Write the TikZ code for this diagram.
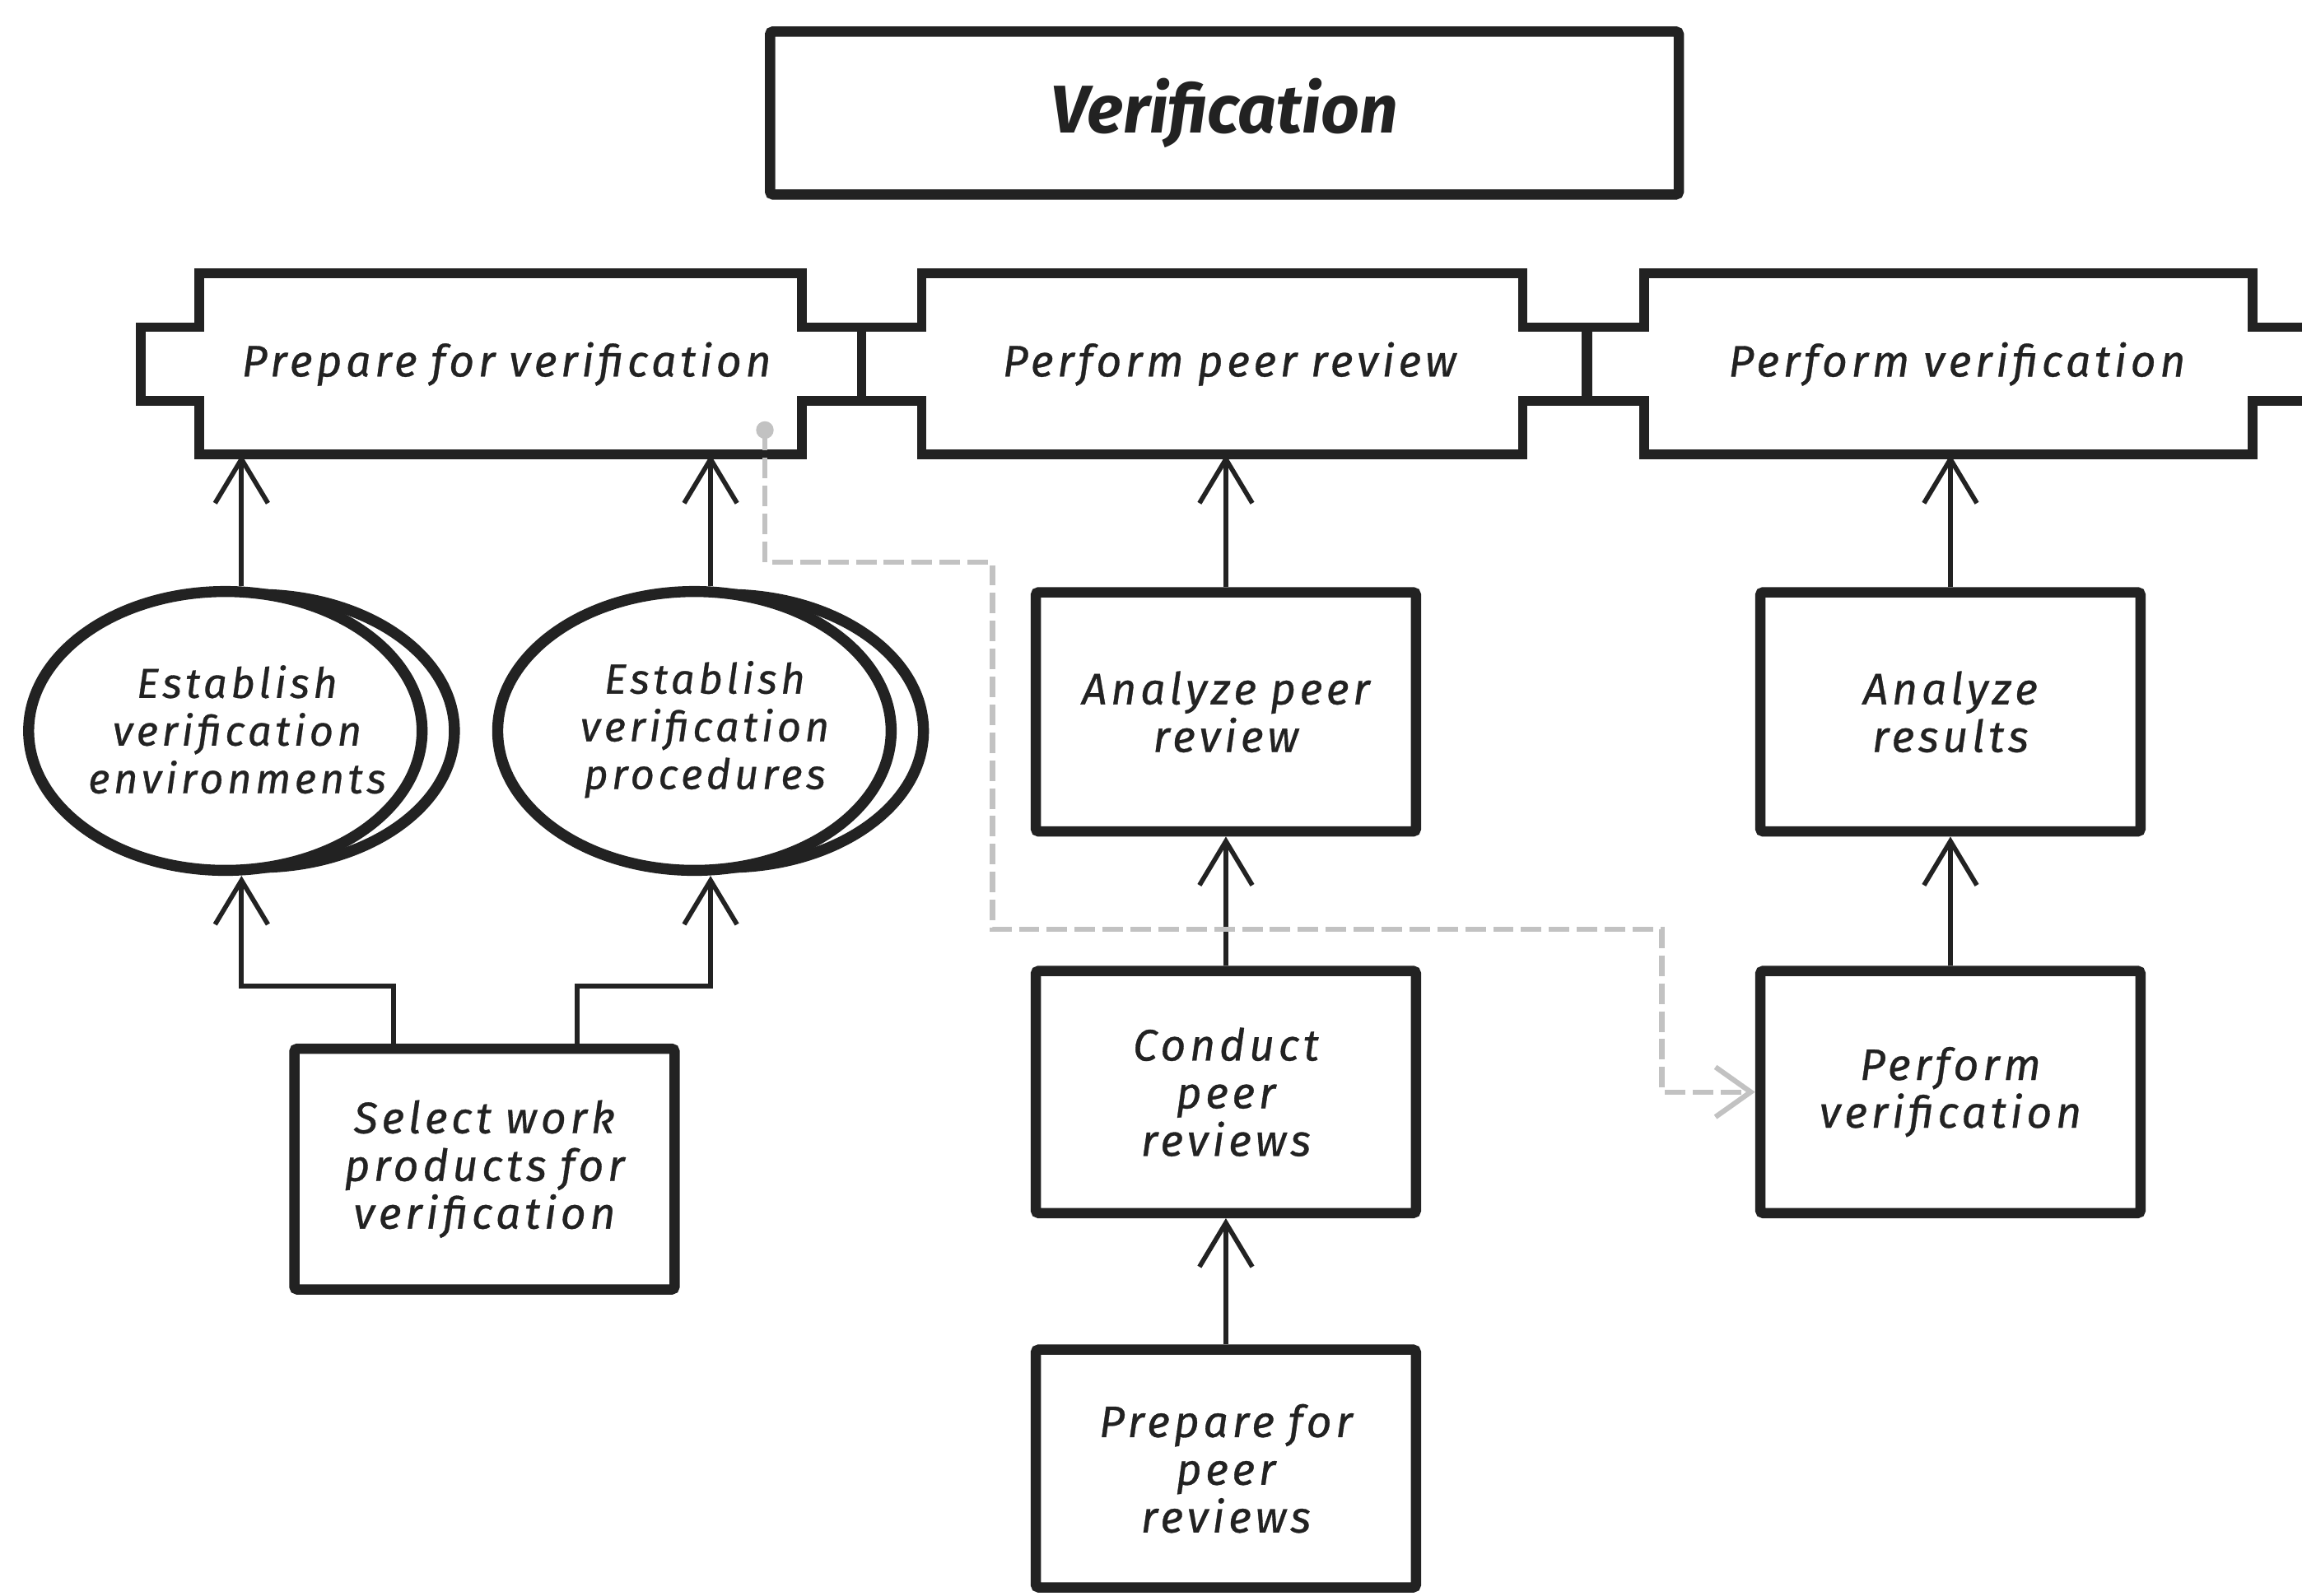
\documentclass[tikz,border=0pt]{standalone}
\usepackage{fontspec}
\setmainfont{Fira Sans}
\newfontfamily\handfont[LetterSpace=9,WordSpace=0.9,FakeBold=0.6]{Fira Sans}
\usetikzlibrary{arrows.meta,shapes.geometric,calc}

\definecolor{ink}{HTML}{222222}
\definecolor{trace}{HTML}{C2C2C2}

\begin{document}
\begin{tikzpicture}[x=1pt,y=-1pt,
  hand/.style={font=\handfont\fontsize{30}{32.5}\selectfont\itshape, align=center, text=ink},
  handsmall/.style={font=\handfont\fontsize{28.5}{32.5}\selectfont\itshape, align=center, text=ink},
  titlebox/.style={draw=ink, line width=7pt, rounded corners=2pt, fill=white,
    minimum width=619pt, minimum height=111pt,
    font=\fontsize{46}{50}\selectfont\bfseries\itshape, text=ink},
  procbox/.style={draw=ink, line width=7pt, rounded corners=2pt, fill=white,
    minimum width=259pt, minimum height=164pt, hand},
  phase/.style={draw=none, minimum height=123pt, hand},
  notch/.style={draw=ink, line width=6.5pt, fill=white, line join=miter},
  stack/.style={draw=none, ellipse, minimum width=296pt, minimum height=197pt},
  oval/.style={draw=ink, line width=7.5pt, fill=white},
  flow/.style={draw=ink, line width=3.2pt,
    -{Straight Barb[length=30pt,width=36pt,line width=3.2pt]}},
  dashflow/.style={draw=trace, line width=3.5pt, dash pattern=on 14pt off 5pt,
    -{Straight Barb[length=24pt,width=34pt,line width=3.5pt]}},
]
\fill[white] (0,0) rectangle (1568,1087);
\clip (0,0) rectangle (1568,1087);

% title
\node[titlebox] (ver) at (834,77) {Verification};

% the three phases
\node[phase, minimum width=410pt] (pv) at (341,248) {};
\node[phase, minimum width=409pt] (ppr) at (832.5,248) {};
\node[phase, minimum width=414pt] (pf) at (1327,248) {};

\draw[notch] (pv.north west) -- (pv.north east) -- ($(pv.east)+(0,-25)$)
  -- ++(41,0) -- ++(0,50) -- ++(-41,0) -- (pv.south east) -- (pv.south west)
  -- ($(pv.west)+(0,25)$) -- ++(-40,0) -- ++(0,-50) -- ++(40,0) -- cycle;
\draw[notch] (ppr.north west) -- (ppr.north east) -- ($(ppr.east)+(0,-25)$)
  -- ++(44,0) -- ++(0,50) -- ++(-44,0) -- (ppr.south east) -- (ppr.south west)
  -- ($(ppr.west)+(0,25)$) -- ++(-41,0) -- ++(0,-50) -- ++(41,0) -- cycle;
\fill[white] (pf.north west) rectangle (pf.south east);
\fill[white] ($(pf.east)+(0,-25)$) rectangle ($(pf.east)+(60,25)$);
\draw[notch, fill=none] ($(pf.east)+(60,-25)$) -- ($(pf.east)+(0,-25)$)
  -- (pf.north east) -- (pf.north west) -- ($(pf.west)+(0,-25)$)
  -- ++(-39,0) -- ++(0,50) -- ++(39,0) -- (pf.south west) -- (pf.south east)
  -- ($(pf.east)+(0,25)$) -- ++(60,0);

\node[hand] at ($(pv.center)+(4,0)$) {Prepare for verification};
\node[hand] at ($(ppr.center)+(5,0)$) {Perform peer review};
\node[hand] at ($(pf.center)+(6,0)$) {Perform verification};

% stacked ovals
\node[stack] (env) at (164.5,498) {};
\node[stack] (proc) at (484,498) {};
\foreach \o in {env,proc}{
  \draw[oval] ($(\o.center)+(11,0)$) ellipse [x radius=134pt, y radius=93pt];
  \draw[oval] ($(\o.center)+(-11,0)$) ellipse [x radius=134pt, y radius=95pt];
}
\node[handsmall] at ($(env.center)+(-3,-1)$) {Establish\\verification\\environments};
\node[handsmall] at ($(proc.center)+(-4,-1)$) {Establish\\verification\\procedures};

% activity boxes
\node[procbox, minimum height=164pt] (sel) at (330,796.5) {Select work\\products for\\verification};
\node[procbox, minimum height=163pt] (apr) at (835,485) {Analyze peer\\review};
\node[procbox, minimum height=165pt] (cpr) at (835,744) {Conduct\\peer\\reviews};
\node[procbox, minimum height=162pt] (prp) at (835,1000.5) {Prepare for\\peer\\reviews};
\node[procbox, minimum height=163pt] (ares) at (1328.5,485) {Analyze\\results};
\node[procbox, minimum height=165pt] (pver) at (1328.5,744) {Perform\\verification};

% connectors
\draw[flow] (env.north) -- (env.north |- pv.south);
\draw[flow] (proc.north) -- (proc.north |- pv.south);
\draw[flow] ([xshift=-62pt]sel.north) -- ++(0,-39) -| (env.south);
\draw[flow] ([xshift=63pt]sel.north) -- ++(0,-39) -| (proc.south);
\draw[flow] (apr.north) -- (apr.north |- ppr.south);
\draw[flow] (cpr.north) -- (apr.south);
\draw[flow] (prp.north) -- (cpr.south);
\draw[flow] (ares.north) -- (ares.north |- pf.south);
\draw[flow] (pver.north) -- (ares.south);

% trace from the preparation phase to the verification step
\coordinate (tracestart) at ($(pv.center)+(180,45)$);
\fill[trace] (tracestart) circle[radius=6pt];
\draw[dashflow] (tracestart) -- ++(0,90) -- ++(155,0) -- ++(0,250) -- ++(456,0) |- (pver.west);
\end{tikzpicture}
\end{document}
